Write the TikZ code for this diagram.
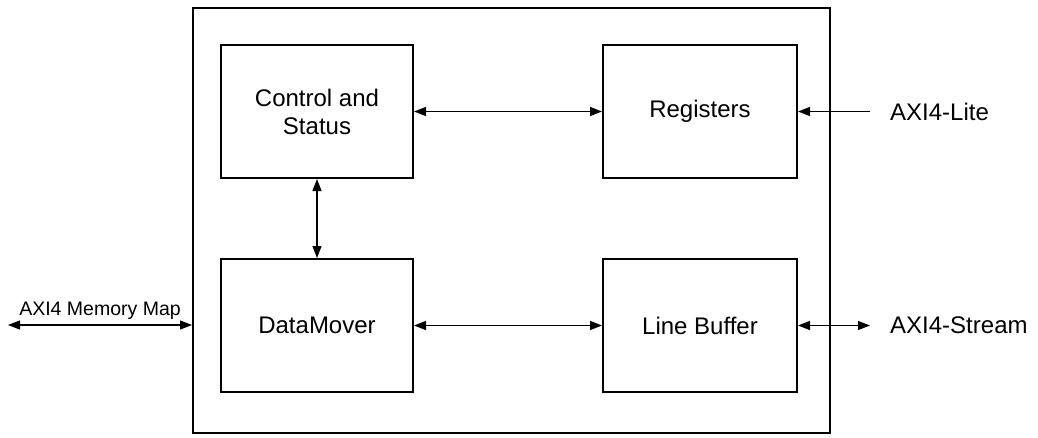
\documentclass[tikz,border=0pt]{standalone}
\usepackage{fontspec}
\setmainfont{Liberation Sans}
\usetikzlibrary{arrows.meta}
\begin{document}
\begin{tikzpicture}[x=1pt,y=-1pt,
  blk/.style={draw=black, line width=2pt, minimum width=192pt, minimum height=133pt, inner sep=0pt, align=center, font=\fontsize{24}{28}\selectfont},
  outerbox/.style={draw=black, line width=2pt},
  link/.style={line width=1.2pt, {Triangle[length=12pt,width=9pt]}-{Triangle[length=12pt,width=9pt]}},
  inlink/.style={line width=1.2pt, -{Triangle[length=12pt,width=9pt]}},
  lbl/.style={font=\fontsize{24}{28}\selectfont, inner sep=0pt}]
\useasboundingbox (0,0) rectangle (1038,437);
\node[outerbox, minimum width=637pt, minimum height=425pt, inner sep=0pt] (outer) at (511.5,220.5) {};
\node[blk] (ctrl) at (317,111.5) {Control and\\Status};
\node[blk, minimum width=194pt] (regs) at (700,111.5) {Registers};
\node[blk] (dm) at (317,325.5) {DataMover};
\node[blk, minimum width=194pt] (lb) at (700,325.5) {Line Buffer};
\coordinate (memL) at (8,325);
\coordinate (liteR) at (870,111.5);
\coordinate (strR) at (870,325.5);
\draw[link] (ctrl.east) -- (regs.west);
\draw[link] (ctrl.south) -- (dm.north);
\draw[link] (dm.east) -- (lb.west);
\draw[inlink] (liteR) -- (regs.east);
\draw[link] (lb.east) -- (strR);
\draw[link] (memL) -- (memL -| outer.west) node[midway, above=5pt, font=\fontsize{19.5}{22}\selectfont, inner sep=0pt] (memlbl) {AXI4 Memory Map};
\node[lbl, anchor=west] (litelbl) at (890,111.5) {AXI4-Lite};
\node[lbl, anchor=west] (strlbl) at (890,325.5) {AXI4-Stream};
\end{tikzpicture}
\end{document}
